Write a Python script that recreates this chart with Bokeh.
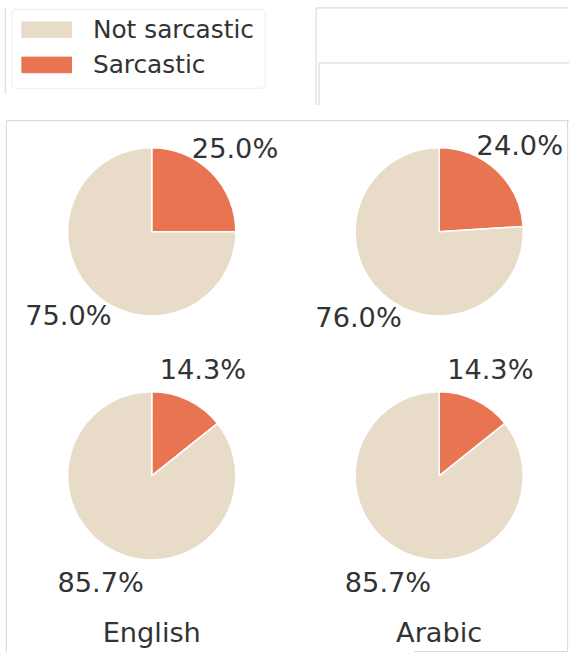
import math
from bokeh.plotting import figure
from bokeh.models import Range1d, BoxAnnotation
from bokeh.core.properties import value
from bokeh.embed import file_html
from bokeh.resources import INLINE

# ---- data ----
languages = ["English", "Arabic"]
categories = ["Not sarcastic", "Sarcastic"]
# rows of pies (top, bottom); values per language in percent
row1_not = [75.0, 76.0]
row1_sarc = [25.0, 24.0]
row2_not = [85.7, 85.7]
row2_sarc = [14.3, 14.3]

colors = {"Not sarcastic": "#E8DCC8", "Sarcastic": "#E97451"}
text_color = "#333333"
FONT = value("DejaVu Sans")

# reference canvas 585 x 668 mapped into a 569 x 652 figure
REF_W, REF_H = 585, 668
W, H = 569, 652
S = W / REF_W

p = figure(width=W, height=H, output_backend="svg", toolbar_location=None,
           x_range=Range1d(0, REF_W), y_range=Range1d(-REF_H, 0),
           min_border=0)
p.axis.visible = False
p.xgrid.visible = False
p.ygrid.visible = False
p.outline_line_color = None
p.background_fill_color = "white"
p.border_fill_color = "white"

def fs(px):
    return f"{px * S:.1f}px"

# layout (y downwards -> data y = -y)
col_x = [155.5, 451.0]
row_y = [237.0, 487.0]
R = 86.5
LABEL_DIST = 1.4

# faint panel frame lines
faint = "#dcdcdc"
p.segment(x0=[6, 324.5, 324.5, 327.5, 327.5, 583, 425, 6, 5],
          y0=[-123, -7.5, -7.5, -64, -64, -123, -667, -123, -7],
          x1=[585, 585, 324.5, 585, 327.5, 583, 583, 6, 5],
          y1=[-123, -7.5, -107, -64, -107, -667, -667, -668, -95],
          line_color=faint, line_width=1.2)

rows = [(row1_not, row1_sarc), (row2_not, row2_sarc)]
for ri, (nots, sarcs) in enumerate(rows):
    for ci in range(len(languages)):
        cx, cy = col_x[ci], -row_y[ri]
        s = sarcs[ci]
        n = nots[ci]
        total = s + n
        sweep_s = 360.0 * s / total
        a0 = 90.0
        a1 = 90.0 - sweep_s
        p.wedge(x=[cx], y=[cy], radius=R, start_angle=[a1], end_angle=[a0],
                start_angle_units="deg", end_angle_units="deg",
                fill_color=colors["Sarcastic"], line_color="white", line_width=1.5)
        p.wedge(x=[cx], y=[cy], radius=R, start_angle=[a0], end_angle=[a1 + 360.0],
                start_angle_units="deg", end_angle_units="deg",
                fill_color=colors["Not sarcastic"], line_color="white", line_width=1.5)
        for val, mid in ((s, (a0 + a1) / 2.0), (n, (a1 + (a0 - 360.0)) / 2.0)):
            rad = math.radians(mid)
            lx = cx + LABEL_DIST * R * math.cos(rad)
            ly = cy + LABEL_DIST * R * math.sin(rad)
            p.text(x=[lx], y=[ly], text=[f"{val:.1f}%"], text_align="center",
                   text_baseline="middle", text_font=FONT, text_font_size=fs(28),
                   text_color=text_color)

# column titles
for ci, lang in enumerate(languages):
    p.text(x=[col_x[ci]], y=[-648], text=[lang], text_align="center",
           text_baseline="middle", text_font=FONT, text_font_size=fs(28),
           text_color=text_color)

# legend
box = BoxAnnotation(left=11.5, right=272, top=-9, bottom=-90, fill_color="white",
                    fill_alpha=1.0, line_color="#cccccc", line_width=1.2,
                    border_radius=4, level="underlay")
p.add_layout(box)
leg_y = [-30, -66]
for i, cat in enumerate(categories):
    p.quad(left=[22], right=[73], top=[leg_y[i] + 8], bottom=[leg_y[i] - 8],
           fill_color=colors[cat], line_color=colors[cat])
    p.text(x=[95], y=[leg_y[i]], text=[cat], text_align="left", text_baseline="middle",
           text_font=FONT, text_font_size=fs(25.5), text_color=text_color)

open("out.html", "w").write(file_html(p, INLINE))
